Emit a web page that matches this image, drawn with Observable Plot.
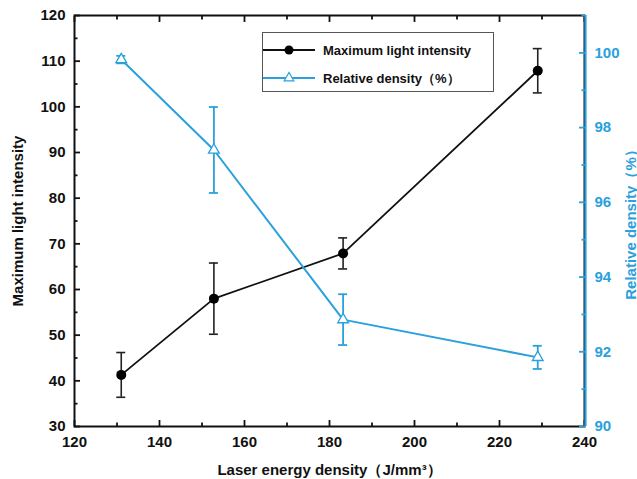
<!DOCTYPE html>
<html><head><meta charset="utf-8">
<script src="https://cdn.jsdelivr.net/npm/d3@7"></script>
<script src="https://cdn.jsdelivr.net/npm/@observablehq/plot@0.6"></script>
<style>
body{margin:0;background:#fff;}
#wrap{position:relative;width:637px;height:479px;overflow:hidden;font-family:"Liberation Sans",Arial,sans-serif;}
#wrap > svg{position:absolute;left:0;top:0;}
#legend{position:absolute;left:262px;top:32px;width:232px;height:60px;border:1px solid #555;background:#fff;box-sizing:border-box;}
</style></head><body><div id="wrap"></div>
<script>
// ---- data ----
const energy = [131, 152.8, 183.2, 229];
const intensity = [41.3, 58.0, 67.9, 107.9];
const intensityErr = [4.9, 7.8, 3.4, 4.85];
const density = [99.82, 97.4, 92.86, 91.85];
const densityErr = [0.1, 1.15, 0.68, 0.31];
const xTicks = [120, 140, 160, 180, 200, 220, 240];
const xMinor = [130, 150, 170, 190, 210, 230];
const leftTicks = [30, 40, 50, 60, 70, 80, 90, 100, 110, 120];
const leftMinor = [35, 45, 55, 65, 75, 85, 95, 105, 115];
const rightTicks = [90, 92, 94, 96, 98, 100];
const rightMinor = [91, 93, 95, 97, 99, 101];
const xDomain = [120, 240];
const leftDomain = [30, 120];
const rightDomain = [90, 101];
const xTitle = "Laser energy density（J/mm³）";
const leftTitle = "Maximum light intensity";
const rightTitle = "Relative density（%）";
const legendLabels = ["Maximum light intensity", "Relative density（%）"];

const BLUE = "#2aa0dc";
const rows1 = energy.map((x, i) => ({x, y: intensity[i], lo: intensity[i] - intensityErr[i], hi: intensity[i] + intensityErr[i]}));
const rows2 = energy.map((x, i) => ({x, y: density[i], lo: density[i] - densityErr[i], hi: density[i] + densityErr[i]}));

const common = {
  width: 637, height: 479,
  marginLeft: 74, marginRight: 53, marginTop: 15, marginBottom: 53,
  style: {fontFamily: "'Liberation Sans', Arial, sans-serif", fontSize: "15px", fontWeight: "bold", background: "none", overflow: "visible"}
};
const blank = () => "";
const MAJ = 6, MIN = 3.5;

const p1 = Plot.plot({
  ...common,
  x: {domain: xDomain},
  y: {domain: leftDomain},
  marks: [
    Plot.axisX({ticks: xTicks, tickSize: 0, tickPadding: 10, fill: "#111", label: xTitle, labelAnchor: "center", labelOffset: 48, labelArrow: "none"}),
    Plot.axisX({ticks: xTicks, tickSize: MAJ, dy: -MAJ, tickFormat: blank, label: null, strokeWidth: 1.8, stroke: "#111"}),
    Plot.axisX({ticks: xMinor, tickSize: MIN, dy: -MIN, tickFormat: blank, label: null, strokeWidth: 1.8, stroke: "#111"}),
    Plot.axisX({anchor: "top", ticks: xTicks, tickSize: MAJ, dy: MAJ, tickFormat: blank, label: null, strokeWidth: 1.8, stroke: "#111"}),
    Plot.axisX({anchor: "top", ticks: xMinor, tickSize: MIN, dy: MIN, tickFormat: blank, label: null, strokeWidth: 1.8, stroke: "#111"}),
    Plot.axisY({ticks: leftTicks, tickSize: 0, tickPadding: 9, fill: "#111", label: leftTitle, labelAnchor: "center", labelOffset: 62, labelArrow: "none"}),
    Plot.axisY({ticks: leftTicks, tickSize: MAJ, dx: MAJ, tickFormat: blank, label: null, strokeWidth: 1.8, stroke: "#111"}),
    Plot.axisY({ticks: leftMinor, tickSize: MIN, dx: MIN, tickFormat: blank, label: null, strokeWidth: 1.8, stroke: "#111"}),
    Plot.frame({stroke: "#111", strokeWidth: 2}),
    Plot.line(rows1, {x: "x", y: "y", stroke: "#111", strokeWidth: 1.8}),
    Plot.ruleX(rows1, {x: "x", y1: "lo", y2: "hi", stroke: "#222", strokeWidth: 1.6}),
    Plot.ruleY(rows1, {y: "hi", x1: "x", x2: "x", insetLeft: -4.5, insetRight: -4.5, stroke: "#222", strokeWidth: 1.6}),
    Plot.ruleY(rows1, {y: "lo", x1: "x", x2: "x", insetLeft: -4.5, insetRight: -4.5, stroke: "#222", strokeWidth: 1.6}),
    Plot.dot(rows1, {x: "x", y: "y", r: 5, fill: "#000", stroke: "none"})
  ]
});

const p2 = Plot.plot({
  ...common,
  x: {domain: xDomain, axis: null},
  y: {domain: rightDomain},
  marks: [
    Plot.axisY({anchor: "right", ticks: rightTicks, tickSize: 0, tickPadding: 10, fill: BLUE, label: rightTitle, labelAnchor: "center", labelOffset: 51, labelArrow: "none"}),
    Plot.axisY({anchor: "right", ticks: rightTicks, tickSize: MAJ, dx: -MAJ, tickFormat: blank, label: null, stroke: BLUE, strokeWidth: 1.8}),
    Plot.axisY({anchor: "right", ticks: rightMinor, tickSize: MIN, dx: -MIN, tickFormat: blank, label: null, stroke: BLUE, strokeWidth: 1.8}),
    Plot.ruleX([xDomain[1]], {stroke: BLUE, strokeWidth: 2.2, dx: 1}),
    Plot.line(rows2, {x: "x", y: "y", stroke: BLUE, strokeWidth: 2}),
    Plot.ruleX(rows2, {x: "x", y1: "lo", y2: "hi", stroke: BLUE, strokeWidth: 1.8}),
    Plot.ruleY(rows2, {y: "hi", x1: "x", x2: "x", insetLeft: -4.5, insetRight: -4.5, stroke: BLUE, strokeWidth: 1.8}),
    Plot.ruleY(rows2, {y: "lo", x1: "x", x2: "x", insetLeft: -4.5, insetRight: -4.5, stroke: BLUE, strokeWidth: 1.8}),
    Plot.dot(rows2, {x: "x", y: "y", symbol: "triangle", r: 4, fill: "#fff", stroke: BLUE, strokeWidth: 1.3})
  ]
});

const wrap = document.getElementById("wrap");
wrap.appendChild(p1);
wrap.appendChild(p2);

// legend
const lg = document.createElement("div");
lg.id = "legend";
lg.innerHTML = `<svg width="230" height="58" style="position:absolute;left:0;top:0;font-family:'Liberation Sans',Arial,sans-serif;font-weight:bold;font-size:13px">
  <line x1="0" x2="52" y1="17" y2="17" stroke="#111" stroke-width="1.8"/>
  <circle cx="26" cy="17" r="4.5" fill="#000"/>
  <text x="60" y="22" fill="#111">${legendLabels[0]}</text>
  <line x1="0" x2="52" y1="45" y2="45" stroke="${BLUE}" stroke-width="1.8"/>
  <path d="${d3.symbol(d3.symbolTriangle, 40)()}" transform="translate(26,45)" fill="#fff" stroke="${BLUE}" stroke-width="1.2"/>
  <text x="60" y="50" fill="#111">${legendLabels[1]}</text>
</svg>`;
wrap.appendChild(lg);
</script>
</body></html>
